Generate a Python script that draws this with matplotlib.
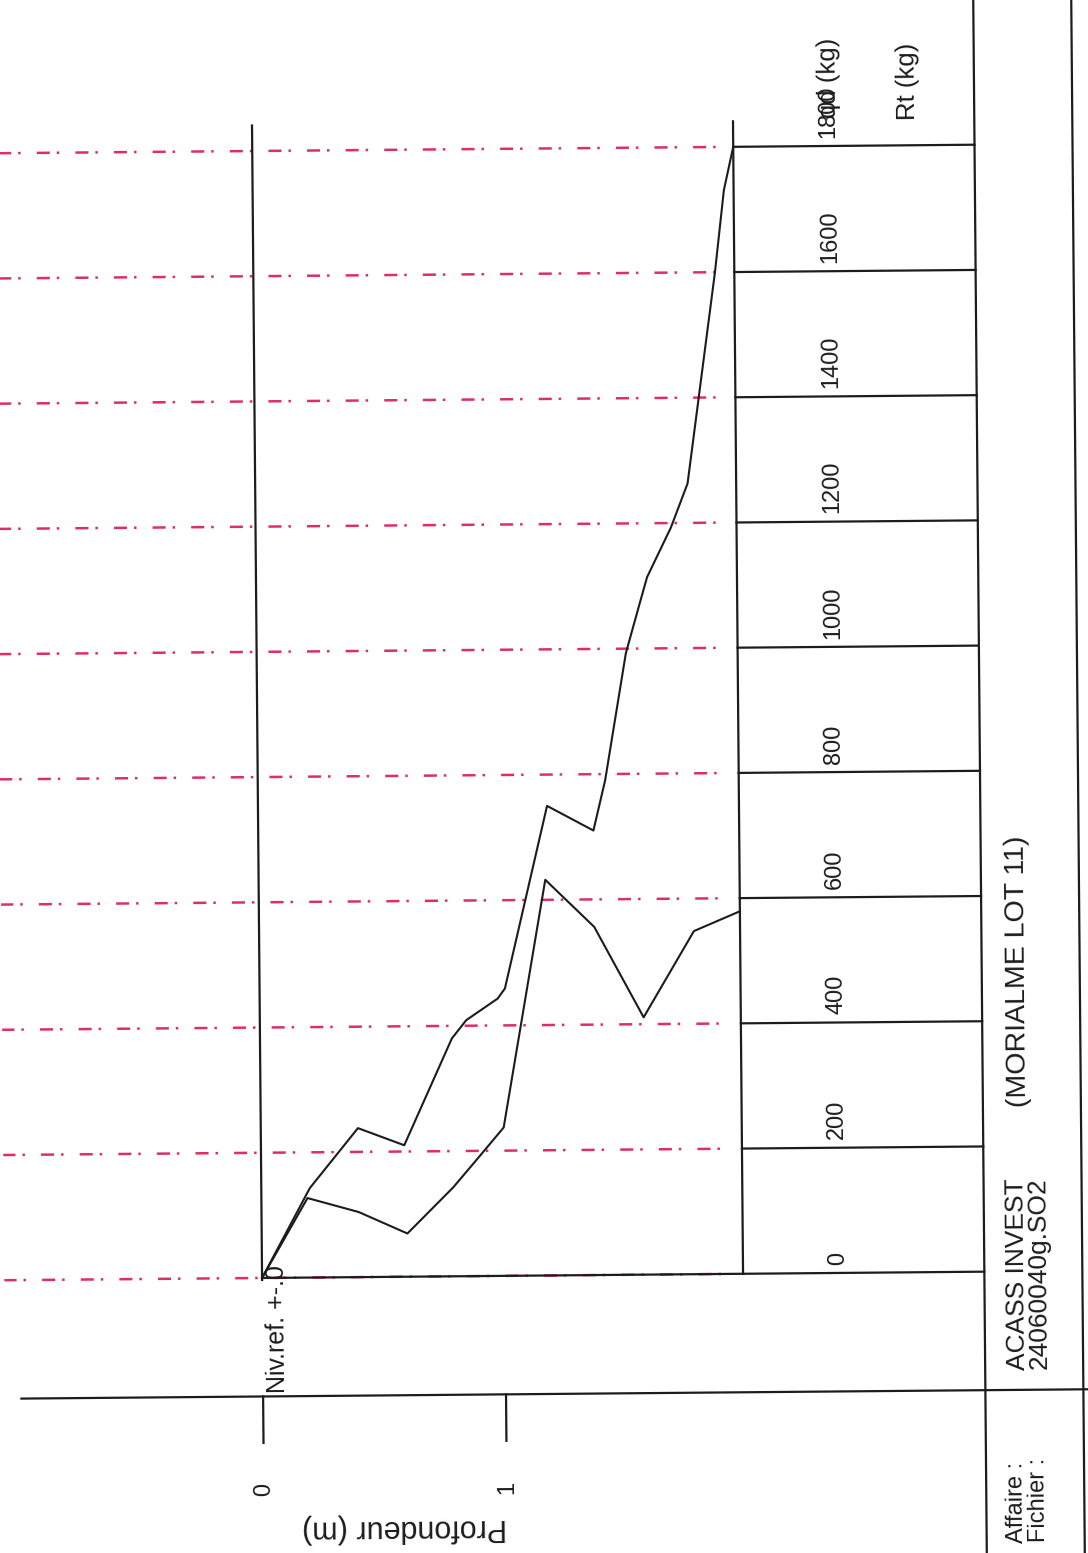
import matplotlib
matplotlib.use("Agg")
import matplotlib.pyplot as plt
import matplotlib.transforms as mtransforms

# relevé pénétrométrique : profondeur (m) / effort (kg)
depth_a = [0, 0.20, 0.40, 0.59, 0.79, 0.85, 0.98, 1.01, 1.19, 1.38, 1.43, 1.52,
           1.58, 1.61, 1.71, 1.78, 1.90, 1.94, 1.98]
kg_a = [0, 143, 238, 210, 380, 409, 443, 459, 750, 710, 790, 993,
        1074, 1114, 1193, 1263, 1599, 1731, 1800]

depth_b = [0, 0.19, 0.40, 0.60, 0.79, 0.89, 1.00, 1.01, 1.18, 1.38, 1.58, 1.79, 1.98]
kg_b = [0, 127, 104, 69, 142, 187, 237, 259, 632, 556, 411, 548, 579]

kg_ticks = [0, 200, 400, 600, 800, 1000, 1200, 1400, 1600, 1800]
depth_ticks = [0, 1]

plt.rcParams["font.family"] = ["Liberation Sans", "DejaVu Sans"]
plt.rcParams["lines.scale_dashes"] = False

W, H = 1088, 1553
TILT = 0.5  # la feuille est scannée un peu de travers
ink = "#1c1c1c"
red = "#dc2f62"

fig = plt.figure(figsize=(W / 100, H / 100), dpi=100)
fig.patch.set_facecolor("white")

# repère "page" en pixels pour le cartouche
page = fig.add_axes([0, 0, 1, 1])
page.set_xlim(0, W)
page.set_ylim(H, 0)
page.axis("off")

# zone du graphique
x0, x1 = 257.7, 738.7
y0, ytop = 1275.5, 123.0
px_per_kg = (1275.5 - 148.5) / 1800
ax = fig.add_axes([x0 / W, (H - y0) / H, (x1 - x0) / W, (y0 - ytop) / H])
ax.set_xlim(0, 1.98)
ax.set_ylim(0, (y0 - ytop) / px_per_kg)
ax.axis("off")

tilt = mtransforms.Affine2D().rotate_deg_around(544, H - 776, TILT)
P = page.transData + tilt
D = ax.transData + tilt
Y = mtransforms.blended_transform_factory(page.transData, ax.transData) + tilt
X = mtransforms.blended_transform_factory(ax.transData, page.transData) + tilt

# lignes de niveau rouges
for v in kg_ticks:
    page.plot([0, 727], [v, v], transform=Y, color=red, lw=1.8,
              linestyle=(0.6, (9.4, 5.0, 1.8, 11.6)), clip_on=False, zorder=1)

# cadre du graphique
page.plot([x0, x0], [ytop, 1277.5], transform=P, color=ink, lw=1.6, clip_on=False, zorder=3)
page.plot([x1, x1], [ytop, y0], transform=P, color=ink, lw=1.6, clip_on=False, zorder=3)

# échelle des efforts
for v in kg_ticks:
    start = x0 if v == 0 else x1
    page.plot([start, 980], [v, v], transform=Y, color=ink, lw=1.6, clip_on=False, zorder=3)
    page.text(834, v + 13, str(v), transform=Y, rotation=90 + TILT, ha="center",
              va="bottom", fontsize=17, color=ink)
page.text(834, 121, "qd (kg)", transform=P, rotation=90 + TILT, ha="center",
          va="bottom", fontsize=18.5, color=ink)
page.text(913, 123, "Rt (kg)", transform=P, rotation=90 + TILT, ha="center",
          va="bottom", fontsize=18.5, color=ink)

# cartouche
page.plot([980, 980], [-20, H + 20], transform=P, color=ink, lw=1.6, clip_on=False)
page.plot([1078, 1078], [-20, H + 20], transform=P, color=ink, lw=1.6, clip_on=False)
page.plot([16, W + 20], [1394, 1394], transform=P, color=ink, lw=1.6, clip_on=False)
page.text(1021, 1547, "Affaire :\nFichier :", transform=P, rotation=90 + TILT,
          ha="center", va="bottom", multialignment="left", linespacing=0.98,
          fontsize=17, color=ink)
page.text(1023, 1374, "ACASS INVEST\n24060040g.SO2", transform=P, rotation=90 + TILT,
          ha="center", va="bottom", multialignment="left", linespacing=0.9,
          fontsize=19, color=ink)
page.text(1015, 1111, "(MORIALME LOT 11)", transform=P, rotation=90 + TILT,
          ha="center", va="bottom", fontsize=20.5, color=ink)

# axe des profondeurs
for d in depth_ticks:
    page.plot([d, d], [1394, 1440.5], transform=X, color=ink, lw=1.6, clip_on=False)
    page.text(d, 1487, str(d), transform=X, rotation=90 + TILT, ha="center",
              va="center", fontsize=17, color=ink)
page.text(398, 1527, "Profondeur (m)", transform=P, rotation=180 + TILT,
          ha="center", va="center", fontsize=22, color=ink)
page.text(272, 1391, "Niv.ref. +-.0", transform=P, rotation=90 + TILT, ha="center",
          va="bottom", fontsize=18, color=ink)

# courbes
ax.plot(depth_a, kg_a, transform=D, color=ink, lw=1.5, clip_on=False, zorder=4)
ax.plot(depth_b, kg_b, transform=D, color=ink, lw=1.5, clip_on=False, zorder=4)

fig.savefig("out.png", dpi=100)
